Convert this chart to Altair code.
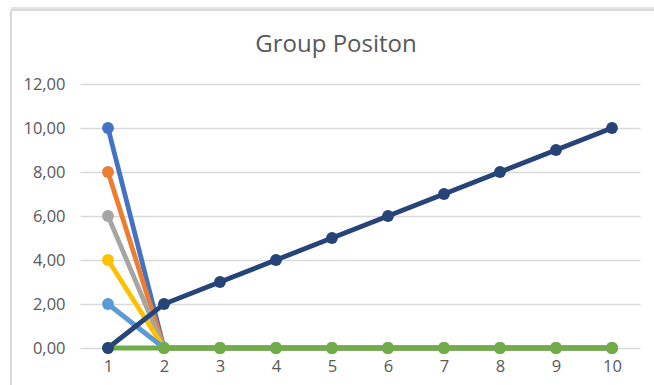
import altair as alt
import pandas as pd

positions = [1, 2, 3, 4, 5, 6, 7, 8, 9, 10]
series_names = ["S1", "S2", "S3", "S4", "S5", "S6", "S7"]
series_values = {
    "S1": [10, 0, 0, 0, 0, 0, 0, 0, 0, 0],
    "S2": [8, 0, 0, 0, 0, 0, 0, 0, 0, 0],
    "S3": [6, 0, 0, 0, 0, 0, 0, 0, 0, 0],
    "S4": [4, 0, 0, 0, 0, 0, 0, 0, 0, 0],
    "S5": [2, 0, 0, 0, 0, 0, 0, 0, 0, 0],
    "S6": [0, 0, 0, 0, 0, 0, 0, 0, 0, 0],
    "S7": [0, 2, 3, 4, 5, 6, 7, 8, 9, 10],
}
colors = ["#4472C4", "#ED7D31", "#A5A5A5", "#FFC000", "#5B9BD5", "#70AD47", "#264478"]
y_ticks = [0, 2, 4, 6, 8, 10, 12]
title_text = "Group Positon"

rows = []
for si, s in enumerate(series_names):
    for p, v in zip(positions, series_values[s]):
        rows.append({"pos": p, "val": v, "series": s, "ord": si})
df = pd.DataFrame(rows)

FONT = "Open Sans"
GRAY = "#595959"

x_enc = alt.X("pos:Q", scale=alt.Scale(domain=[0.5, 10.5], nice=False, zero=False),
              axis=alt.Axis(values=positions, title=None, grid=False, domain=False, ticks=False,
                            labelFont=FONT, labelFontSize=16.5, labelColor=GRAY, labelPadding=10,
                            format="d"))
y_enc = alt.Y("val:Q", scale=alt.Scale(domain=[0, 12], nice=False),
              axis=alt.Axis(values=y_ticks, title=None, domain=False, ticks=False,
                            gridColor="#D9D9D9", gridWidth=1.4,
                            labelFont=FONT, labelFontSize=16.5, labelColor=GRAY, labelPadding=15,
                            labelExpr="replace(format(datum.value, '.2f'), '.', ',')"))
color_enc = alt.Color("series:N", scale=alt.Scale(domain=series_names, range=colors), legend=None)

base = alt.Chart(df)
lines = base.mark_line(strokeWidth=4.8).encode(x=x_enc, y=y_enc, color=color_enc,
                                                order=alt.Order("pos:Q"), detail="series:N")
points = base.mark_circle(size=140, opacity=1).encode(x=x_enc, y=y_enc, color=color_enc,
                                                      order=alt.Order("ord:Q"))

title_df = pd.DataFrame({"t": [title_text]})
title = alt.Chart(title_df).mark_text(font=FONT, fontSize=24, color=GRAY, align="center",
                                      baseline="middle").encode(
    text="t:N", x=alt.value(256), y=alt.value(-39))

border_top = alt.Chart(df).mark_rule(color="#D9D9D9", strokeWidth=2, clip=False).encode(
    x=alt.value(-69), x2=alt.value(580), y=alt.value(-74))
border_left = alt.Chart(df).mark_rule(color="#D9D9D9", strokeWidth=1.5, clip=False).encode(
    x=alt.value(-69), y=alt.value(-74), y2=alt.value(310))
top_line = alt.Chart(df).mark_rule(color="#E3E3E3", strokeWidth=1, clip=False).encode(
    x=alt.value(-69), x2=alt.value(580), y=alt.value(-76))

chart = alt.layer(border_top, top_line, border_left, title, lines, points).properties(
    width=560, height=264,
    autosize=alt.AutoSizeParams(type="none"),
    padding={"left": 80, "top": 84, "right": 14, "bottom": 37},
).configure_view(stroke=None)

chart.save("out.html", embed_options={"renderer": "svg", "actions": False})
